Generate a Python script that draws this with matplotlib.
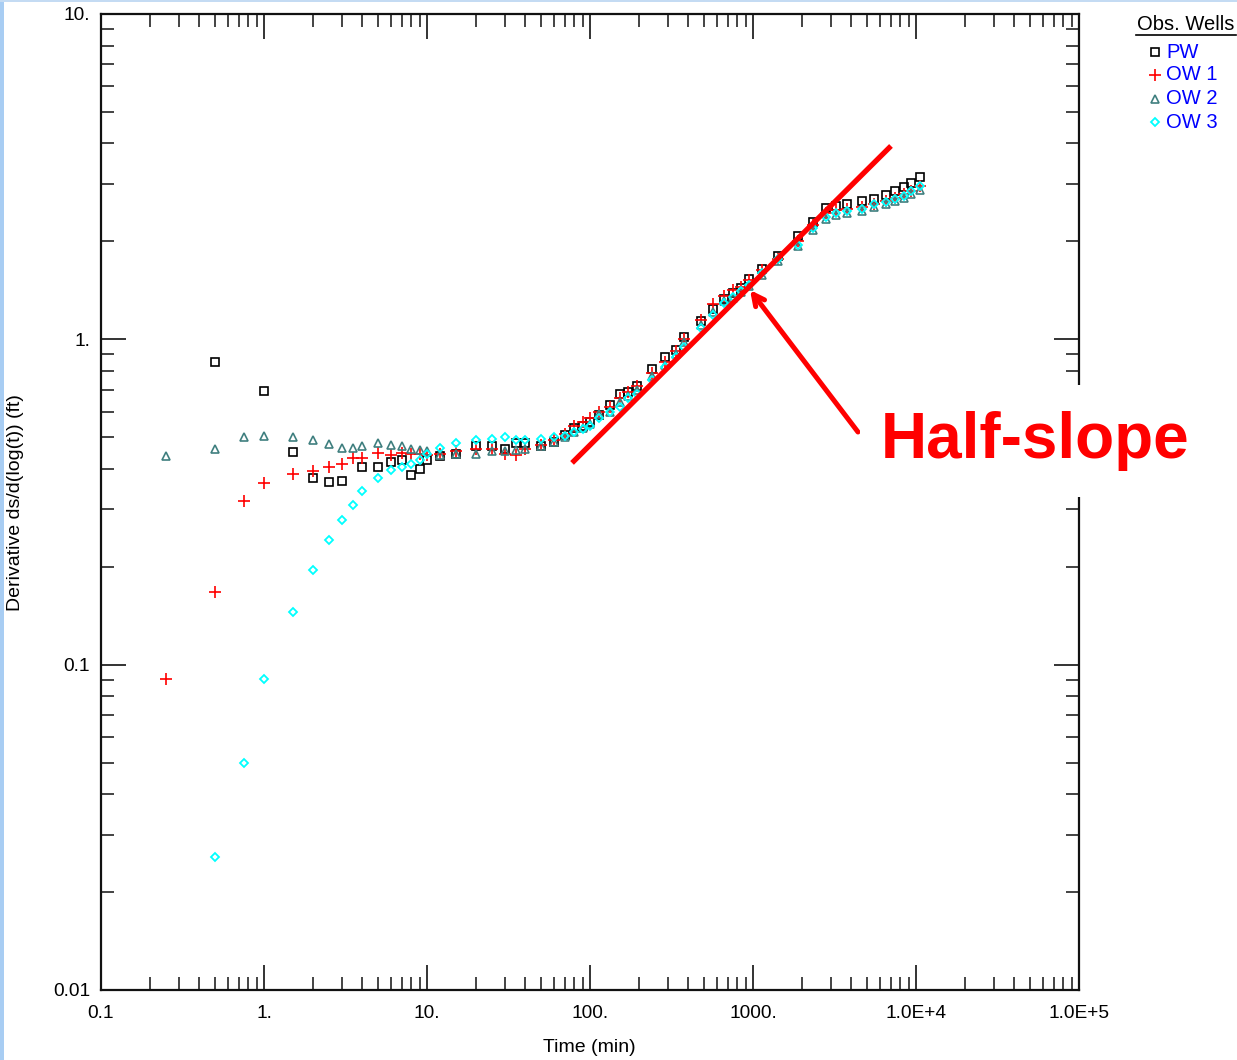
import numpy as np
import matplotlib
matplotlib.use("Agg")
import matplotlib.pyplot as plt
from matplotlib.ticker import FixedLocator, FixedFormatter, LogLocator, NullFormatter
from matplotlib.patches import Rectangle
from matplotlib.lines import Line2D

plt.rcParams['font.family'] = ['Liberation Sans', 'DejaVu Sans']

# ---------------- data ----------------
late_t = [12, 15, 20, 25, 30, 35, 40, 50, 60, 70, 80, 90, 100, 114, 133, 153, 172, 193,
          241, 288, 336, 376, 478, 566, 667, 754, 844, 945, 1130, 1420, 1900, 2345, 2805,
          3230, 3773, 4645, 5525, 6545, 7470, 8440, 9270, 10620]

pw_early_t = [0.5, 1, 1.5, 2, 2.5, 3, 4, 5, 6, 7, 8, 9, 10]
pw_early_y = [0.85, 0.695, 0.45, 0.376, 0.364, 0.368, 0.406, 0.406, 0.42, 0.427, 0.383, 0.40, 0.427]
pw_late_y = [0.437, 0.445, 0.47, 0.47, 0.46, 0.479, 0.479, 0.47, 0.483, 0.508, 0.533, 0.54, 0.556,
             0.585, 0.628, 0.678, 0.687, 0.72, 0.812, 0.884, 0.927, 1.02, 1.14, 1.237, 1.33, 1.39,
             1.435, 1.53, 1.65, 1.80, 2.08, 2.30, 2.53, 2.575, 2.60, 2.66, 2.70, 2.78, 2.86, 2.94,
             3.03, 3.15]

ow1_early_t = [0.25, 0.5, 0.75, 1, 1.5, 2, 2.5, 3, 3.5, 4, 5, 6, 7, 8, 9, 10]
ow1_early_y = [0.0904, 0.167, 0.319, 0.361, 0.386, 0.395, 0.406, 0.414, 0.433, 0.433, 0.446,
               0.44, 0.446, 0.444, 0.444, 0.44]
ow1_late_y = [0.445, 0.455, 0.46, 0.46, 0.445, 0.44, 0.46, 0.472, 0.49, 0.51, 0.54, 0.556, 0.575,
              0.60, 0.62, 0.66, 0.69, 0.72, 0.79, 0.85, 0.92, 1.0, 1.15, 1.28, 1.36, 1.42, 1.45,
              1.52, 1.63, 1.77, 2.0, 2.24, 2.45, 2.50, 2.52, 2.56, 2.60, 2.66, 2.72, 2.80, 2.86,
              2.95]

ow2_early_t = [0.25, 0.5, 0.75, 1, 1.5, 2, 2.5, 3, 3.5, 4, 5, 6, 7, 8, 9, 10]
ow2_early_y = [0.438, 0.459, 0.5, 0.505, 0.5, 0.49, 0.477, 0.465, 0.465, 0.47, 0.48, 0.475,
               0.47, 0.46, 0.457, 0.455]
ow2_late_y = [0.44, 0.445, 0.445, 0.455, 0.455, 0.456, 0.46, 0.47, 0.483, 0.50, 0.52, 0.535, 0.55,
              0.59, 0.60, 0.64, 0.67, 0.70, 0.77, 0.834, 0.90, 0.98, 1.11, 1.21, 1.31, 1.34, 1.40,
              1.46, 1.58, 1.74, 1.93, 2.17, 2.34, 2.41, 2.44, 2.48, 2.55, 2.60, 2.66, 2.71, 2.79,
              2.87]

ow3_early_t = [0.5, 0.75, 1, 1.5, 2, 2.5, 3, 3.5, 4, 5, 6, 7, 8, 9, 10]
ow3_early_y = [0.0257, 0.0499, 0.0906, 0.145, 0.195, 0.241, 0.279, 0.31, 0.341, 0.376, 0.398,
               0.406, 0.414, 0.427, 0.444]
ow3_late_y = [0.464, 0.48, 0.49, 0.495, 0.50, 0.49, 0.49, 0.495, 0.50, 0.505, 0.52, 0.53, 0.54,
              0.575, 0.60, 0.62, 0.66, 0.68, 0.75, 0.82, 0.88, 0.95, 1.08, 1.19, 1.29, 1.35, 1.41,
              1.47, 1.60, 1.76, 1.95, 2.20, 2.38, 2.45, 2.48, 2.52, 2.60, 2.65, 2.70, 2.76, 2.85,
              2.95]

series_names = ["PW", "OW 1", "OW 2", "OW 3"]

# half-slope guide line and arrow (data coordinates)
line_x = [77.6, 7024]
line_y = [0.417, 3.93]
arrow_tip = (958.5, 1.418)
arrow_tail = (4406, 0.519)

x_ticks = [0.1, 1, 10, 100, 1000, 1e4, 1e5]
x_labels = ["0.1", "1.", "10.", "100.", "1000.", "1.0E+4", "1.0E+5"]
y_ticks = [0.01, 0.1, 1, 10]
y_labels = ["0.01", "0.1", "1.", "10."]

# ---------------- figure ----------------
W, H = 1237, 1060
fig = plt.figure(figsize=(W / 100, H / 100), dpi=100)
fig.patch.set_facecolor('white')
ax = fig.add_axes([101 / W, 70 / H, 978 / W, 976 / H])

styles = [
    dict(marker='s', color='black', ms=5.4, mew=1.2),
    dict(marker='+', color='#ff0000', ms=8.0, mew=1.2),
    dict(marker='^', color='#3f7f7f', ms=5.8, mew=1.2),
    dict(marker='D', color='#00ffff', ms=4.4, mew=1.3),
]
data = [
    (pw_early_t, pw_early_y, pw_late_y),
    (ow1_early_t, ow1_early_y, ow1_late_y),
    (ow2_early_t, ow2_early_y, ow2_late_y),
    (ow3_early_t, ow3_early_y, ow3_late_y),
]
for (et, ey, ly), st in zip(data, styles):
    t = np.concatenate([et, late_t])
    y = np.concatenate([ey, ly])
    ax.plot(t, y, linestyle='none', marker=st['marker'], markersize=st['ms'],
            markeredgewidth=st['mew'], markeredgecolor=st['color'],
            markerfacecolor='none', zorder=3)

ax.set_xscale('log')
ax.set_yscale('log')
ax.set_xlim(0.1, 1e5)
ax.set_ylim(0.01, 10)

ax.xaxis.set_major_locator(FixedLocator(x_ticks))
ax.xaxis.set_major_formatter(FixedFormatter(x_labels))
ax.yaxis.set_major_locator(FixedLocator(y_ticks))
ax.yaxis.set_major_formatter(FixedFormatter(y_labels))
ax.xaxis.set_minor_locator(LogLocator(base=10, subs=np.arange(2, 10), numticks=20))
ax.yaxis.set_minor_locator(LogLocator(base=10, subs=np.arange(2, 10), numticks=20))
ax.xaxis.set_minor_formatter(NullFormatter())
ax.yaxis.set_minor_formatter(NullFormatter())

ax.tick_params(which='both', direction='in', top=True, right=True, color='#111111')
ax.tick_params(which='major', length=18, width=1.2, labelsize=13.8)
ax.tick_params(which='minor', length=9.5, width=1.1)
ax.tick_params(axis='x', which='major', pad=11)
ax.tick_params(axis='y', which='major', pad=8)
for s in ax.spines.values():
    s.set_linewidth(1.6)
    s.set_color('#111111')

# half-slope line
ax.plot(line_x, line_y, color='#ff0000', lw=3.8, solid_capstyle='butt', zorder=4)
ax.annotate('', xy=arrow_tip, xytext=arrow_tail,
            arrowprops=dict(arrowstyle='->', color='#ff0000', lw=3.6,
                            shrinkA=0, shrinkB=0, mutation_scale=20), zorder=4)

# white box behind label (covers right spine like reference)
fig.patches.append(Rectangle((860 / W, (H - 497) / H), 350 / W, 112 / H,
                             transform=fig.transFigure, facecolor='white',
                             edgecolor='none', zorder=5))
fig.text(1034.7 / W, (H - 458) / H, "Half-slope", color='#ff0000', fontsize=46,
         fontweight='bold', ha='center', va='baseline', zorder=6)

# axis labels
fig.text(589 / W, (H - 1048) / H, "Time (min)", fontsize=14, ha='center', va='center')
fig.text(16 / W, (H - 503) / H, "Derivative ds/d(log(t)) (ft)", fontsize=14,
         rotation=90, ha='center', va='center')

# legend (manual)
fig.text(1186 / W, (H - 24) / H, "Obs. Wells", fontsize=14.5, ha='center', va='center')
fig.lines.append(Line2D([1136 / W, 1236 / W], [(H - 35) / H] * 2,
                        transform=fig.transFigure, color='black', lw=1.2))
leg_y = [52, 75, 99, 122]
for name, st, yy in zip(series_names, styles, leg_y):
    fig.lines.append(Line2D([1155 / W], [(H - yy) / H], transform=fig.transFigure,
                            linestyle='none', marker=st['marker'], markersize=st['ms'],
                            markeredgewidth=st['mew'], markeredgecolor=st['color'],
                            markerfacecolor='none'))
    fig.text(1166 / W, (H - yy) / H, name, fontsize=14.5, color='#0000ff',
             ha='left', va='center')

# light blue frame edges (screenshot border)
fig.patches.append(Rectangle((0, 0), 4 / W, 1, transform=fig.transFigure,
                             facecolor='#a8cdf3', edgecolor='none', zorder=0))
fig.patches.append(Rectangle((0, 1 - 1.5 / H), 1, 1.5 / H, transform=fig.transFigure,
                             facecolor='#c4dbf3', edgecolor='none', zorder=0))

fig.savefig("out.png", dpi=100)
